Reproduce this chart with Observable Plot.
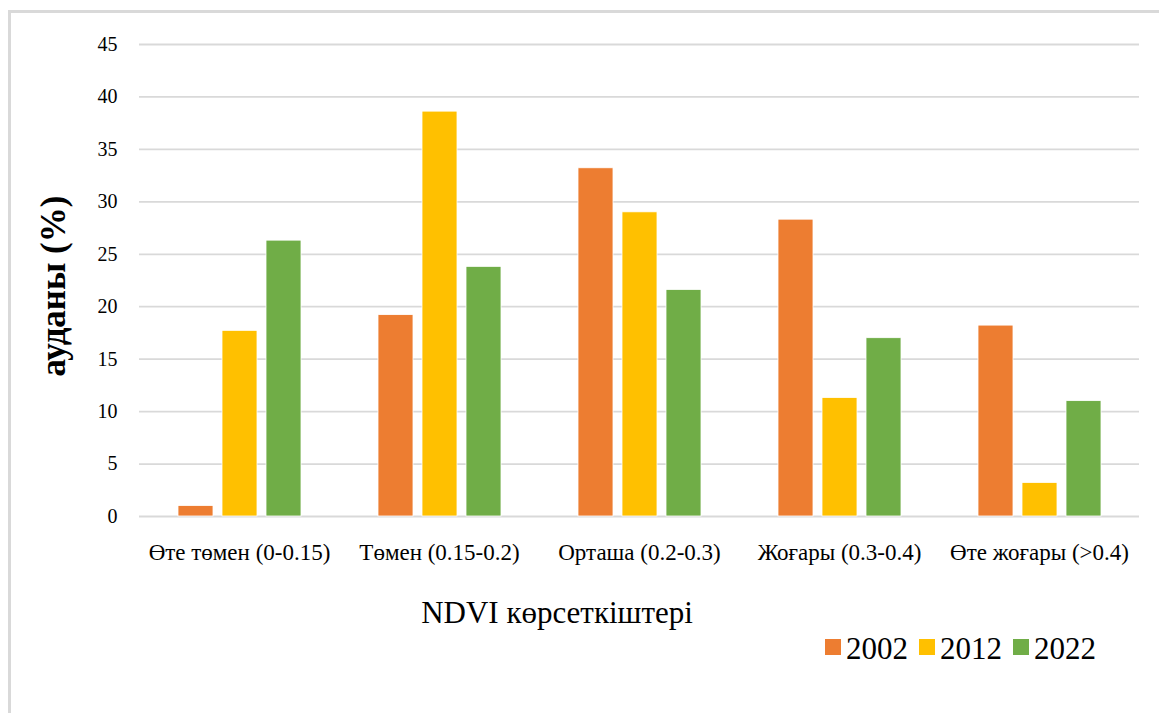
<!DOCTYPE html>
<html>
<head>
<meta charset="utf-8">
<script src="https://cdn.jsdelivr.net/npm/d3@7"></script>
<script src="https://cdn.jsdelivr.net/npm/@observablehq/plot@0.6"></script>
<style>
  html, body { margin: 0; padding: 0; background: #fff; }
  #wrap { position: relative; width: 1159px; height: 713px; overflow: hidden; background: #fff;
          font-family: "Liberation Serif", "Times New Roman", serif; color: #000; }
  #frame { position: absolute; left: 8px; top: 10px; width: 1300px; height: 900px;
           border: 3px solid #d9d9d9; box-sizing: border-box; }
  #chart { position: absolute; left: 0; top: 0; }
  #chart svg, #chart svg text { font-family: "Liberation Serif", "Times New Roman", serif !important; }
  #ylab { position: absolute; left: 53px; top: 286px; transform: translate(-50%, -50%) rotate(-90deg);
          white-space: nowrap; font-size: 35px; font-weight: bold; line-height: 1; }
  #xlab { position: absolute; left: 557px; top: 597px; transform: translateX(-50%);
          white-space: nowrap; font-size: 31px; line-height: 1; }
  #legend { position: absolute; left: 825px; top: 633px; display: flex; align-items: flex-start;
            font-size: 31px; line-height: 1; white-space: nowrap; }
  #legend .sw { width: 16px; height: 16px; margin-top: 6px; margin-right: 5px; }
  #legend .it { display: flex; align-items: flex-start; margin-right: 11px; }
</style>
</head>
<body>
<div id="wrap">
  <div id="frame"></div>
  <div id="chart"></div>
  <div id="ylab"></div>
  <div id="xlab"></div>
  <div id="legend"></div>
</div>
<script>
const categories = ["Өте төмен (0-0.15)", "Төмен (0.15-0.2)", "Орташа (0.2-0.3)", "Жоғары (0.3-0.4)", "Өте жоғары (>0.4)"];
const years = ["2002", "2012", "2022"];
const v2002 = [1.0, 19.2, 33.2, 28.3, 18.2];
const v2012 = [17.7, 38.6, 29.0, 11.3, 3.2];
const v2022 = [26.3, 23.8, 21.6, 17.0, 11.0];
const yTicks = [0, 5, 10, 15, 20, 25, 30, 35, 40, 45];
const colors = ["#ED7D31", "#FFC000", "#70AD47"];
const yTitle = "ауданы (%)";
const xTitle = "NDVI көрсеткіштері";

const serif = "Liberation Serif";
const series = [v2002, v2012, v2022];
const data = [];
categories.forEach((c, i) => {
  years.forEach((y, j) => data.push({category: c, year: y, value: series[j][i]}));
});

const chart = Plot.plot({
  width: 1159,
  height: 713,
  marginTop: 44,
  marginBottom: 197,
  marginLeft: 137,
  marginRight: 18,
  style: {fontFamily: serif, color: "#000", background: "transparent", overflow: "visible"},
  fx: {domain: categories, paddingInner: 0, paddingOuter: 0, label: null},
  x: {domain: years, axis: null, paddingInner: 0.213, paddingOuter: 0.87},
  y: {domain: [0, 45], label: null},
  color: {domain: years, range: colors},
  marks: [
    Plot.gridY(yTicks, {stroke: "#d9d9d9", strokeOpacity: 1, strokeWidth: 1.8}),
    Plot.barY(data, {fx: "category", x: "year", y: "value", fill: "year", stroke: "#fff", strokeWidth: 0.8}),
    Plot.axisY(yTicks, {tickSize: 0, tickPadding: 22, fontSize: 20, fontFamily: serif, fill: "#000", label: null}),
    Plot.axisFx({anchor: "bottom", tickSize: 0, tickPadding: 27, fontSize: 23, fontFamily: serif, fill: "#000", label: null})
  ]
});
chart.setAttribute("font-family", serif);
document.getElementById("chart").appendChild(chart);

document.getElementById("ylab").textContent = yTitle;
document.getElementById("xlab").textContent = xTitle;

const legend = document.getElementById("legend");
years.forEach((y, j) => {
  const it = document.createElement("div");
  it.className = "it";
  const sw = document.createElement("div");
  sw.className = "sw";
  sw.style.background = colors[j];
  const t = document.createElement("span");
  t.textContent = y;
  it.appendChild(sw);
  it.appendChild(t);
  legend.appendChild(it);
});
</script>
</body>
</html>
